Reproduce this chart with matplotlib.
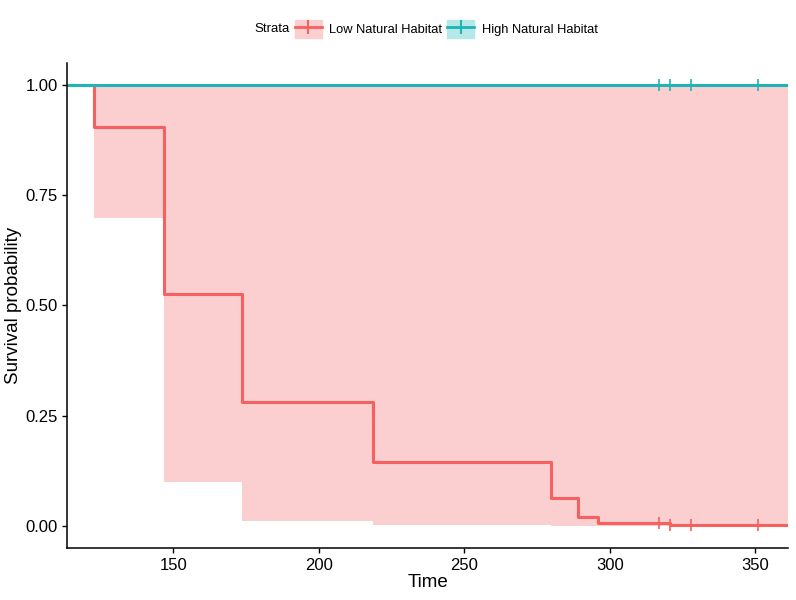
import matplotlib
matplotlib.use("Agg")
from matplotlib import pyplot as plt
from matplotlib.patches import Patch
from matplotlib.lines import Line2D

plt.rcParams['font.family'] = ['Liberation Sans', 'DejaVu Sans']

# Kaplan-Meier step data, low natural habitat
low_time = [113.6, 122.9, 146.9, 173.6, 218.7, 279.7, 288.9, 295.8, 320.8, 361.2]
low_surv = [1.0, 0.904, 0.526, 0.280, 0.146, 0.063, 0.021, 0.0068, 0.0016, 0.0016]
low_lower = [1.0, 0.699, 0.099, 0.011, 0.001, 0.0, 0.0, 0.0, 0.0, 0.0]
low_upper = [1.0, 1.0, 1.0, 1.0, 1.0, 1.0, 1.0, 1.0, 1.0, 1.0]
low_cens_time = [316.7, 320.8, 327.7, 350.8]
low_cens_surv = [0.0068, 0.0016, 0.0016, 0.0016]

# high natural habitat: no events
high_time = [113.6, 361.2]
high_surv = [1.0, 1.0]
high_cens_time = [316.7, 320.8, 327.7, 350.8]
high_cens_surv = [1.0, 1.0, 1.0, 1.0]

red = '#F6605E'
teal = '#1FB5B5'
red_fill = '#FBCFCF'
teal_fill = '#B5E8E8'

fig = plt.figure(figsize=(7.96, 6), dpi=100)
ax = fig.add_axes([0.0846, 0.0867, 0.9054, 0.8083])

ax.fill_between(low_time[1:], low_lower[1:], low_upper[1:], step='post',
                color=red_fill, linewidth=0)
ax.step(low_time, low_surv, where='post', color=red, lw=2.2)
ax.plot(low_cens_time, low_cens_surv, ls='none', marker='|', ms=8, mew=1.2, color=red)
ax.step(high_time, high_surv, where='post', color=teal, lw=2.2)
ax.plot(high_cens_time, high_cens_surv, ls='none', marker='|', ms=8, mew=1.2, color=teal)

ax.set_xlim(113.6, 361.2)
ax.set_ylim(-0.05, 1.05)
ax.set_xticks([150, 200, 250, 300, 350])
ax.set_yticks([0, 0.25, 0.5, 0.75, 1.0])
ax.set_yticklabels(['0.00', '0.25', '0.50', '0.75', '1.00'])
ax.spines['top'].set_visible(False)
ax.spines['right'].set_visible(False)
ax.spines['left'].set_linewidth(1.1)
ax.spines['bottom'].set_linewidth(1.1)
ax.tick_params(labelsize=12, length=3.5, width=1, colors='black', labelcolor='black')
ax.set_xlabel('Time', fontsize=13.5, labelpad=1)
ax.set_ylabel('Survival probability', fontsize=13.5)
ax.yaxis.set_label_coords(-0.063, 0.5)

h_low = (Patch(color=red_fill), Line2D([], [], color=red, lw=2, marker='|', ms=10, mew=1.5))
h_high = (Patch(color=teal_fill), Line2D([], [], color=teal, lw=2, marker='|', ms=10, mew=1.5))
fig.text(0.32, 0.952, 'Strata', fontsize=9.5, va='center')
fig.legend([h_low, h_high], ['Low Natural Habitat', 'High Natural Habitat'],
           loc='center left', bbox_to_anchor=(0.362, 0.952), ncol=2, frameon=False,
           fontsize=9.3, handlelength=2.1, handleheight=1.7, handletextpad=0.6,
           columnspacing=0.35, borderpad=0)

fig.savefig('out.png', dpi=100)
